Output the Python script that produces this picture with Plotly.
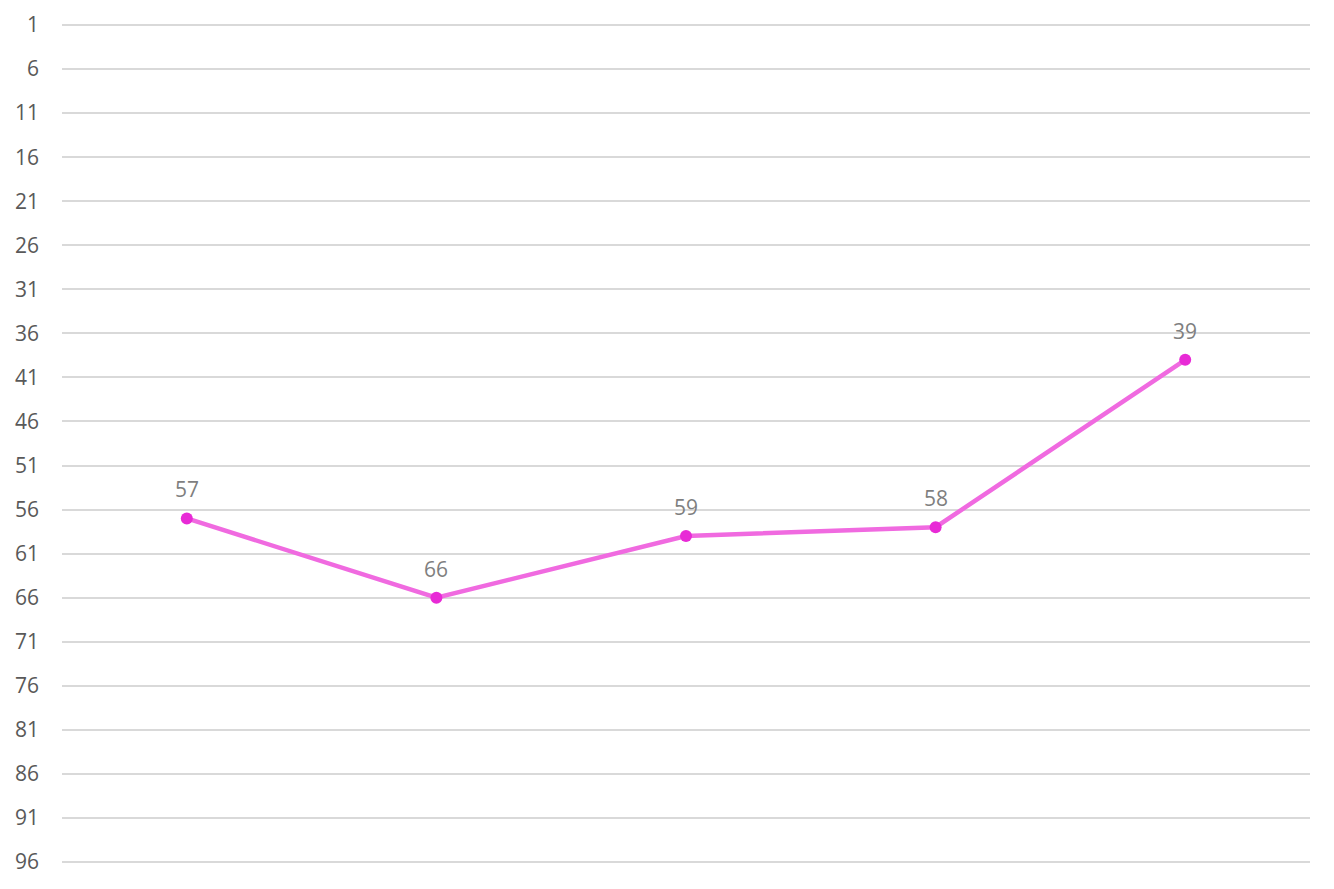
import plotly.graph_objects as go

categories = ["1", "2", "3", "4", "5"]
values = [57, 66, 59, 58, 39]
tick_values = list(range(1, 97, 5))
tick_labels = [str(v) for v in tick_values]

fig = go.Figure()
fig.add_trace(go.Scatter(
    x=categories, y=values,
    mode="lines+markers",
    line=dict(color="#F06AE0", width=4.5),
    marker=dict(color="#E82AD6", size=12),
    cliponaxis=False,
    hoverinfo="skip",
))

for i, v in enumerate(values):
    fig.add_annotation(
        x=i, y=v, text=str(v), showarrow=False,
        yanchor="middle", xanchor="center", yshift=29,
        font=dict(family="Open Sans", size=21, color="#7F7F7F"),
    )

# page body has an 8px default margin; compensate in figure size/margins
fig.update_layout(
    width=1326, height=881,
    margin=dict(l=54, r=24, t=14, b=24, autoexpand=False),
    paper_bgcolor="white", plot_bgcolor="white",
    showlegend=False,
    font=dict(family="Open Sans", size=21, color="#595959"),
    xaxis=dict(showticklabels=False, showgrid=False, zeroline=False,
               showline=False, ticks="", range=[-0.5, 4.5]),
    yaxis=dict(range=[96.34, 0.66], tickvals=tick_values, ticktext=tick_labels,
               showgrid=True, gridcolor="#D9D9D9", gridwidth=1.5,
               zeroline=False, showline=False, ticks="", automargin=False,
               ticklabelstandoff=22, tickfont=dict(size=21, color="#595959")),
)

fig.write_html("out.html")
